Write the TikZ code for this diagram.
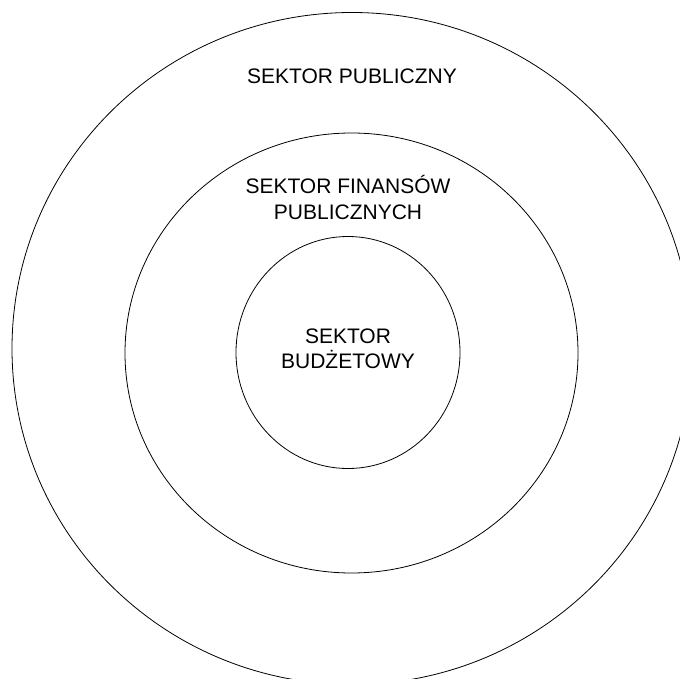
\documentclass[tikz,border=0pt]{standalone}
\usepackage{fontspec}
\setmainfont{Liberation Sans}
\usetikzlibrary{shapes.geometric}
\begin{document}
\begin{tikzpicture}[x=1pt,y=-1pt,
  ring/.style={draw=black,line width=0.8pt,ellipse,inner sep=0pt},
  ringlabel/.style={inner sep=0pt,align=center,font=\fontsize{21}{25.5}\selectfont}]
  \useasboundingbox (0,0) rectangle (680,679);
  \clip (0,0) rectangle (680,679);
  % three nested sectors
  \node[ring,minimum width=680pt,minimum height=672pt] (outer) at (352,348.5) {};
  \node[ring,minimum width=453pt,minimum height=440pt] (middle) at (351.5,353) {};
  \node[ring,minimum width=224pt,minimum height=232pt] (inner) at (348,352.5) {};
  % sector names
  \node[ringlabel,anchor=base] (outerlbl) at (352,83.5) {SEKTOR PUBLICZNY};
  \node[ringlabel,anchor=south] (middlelbl) at (348,219.5) {SEKTOR FINANSÓW\\PUBLICZNYCH};
  \node[ringlabel,anchor=south] (innerlbl) at (348,369) {SEKTOR\\BUDŻETOWY};
\end{tikzpicture}
\end{document}
